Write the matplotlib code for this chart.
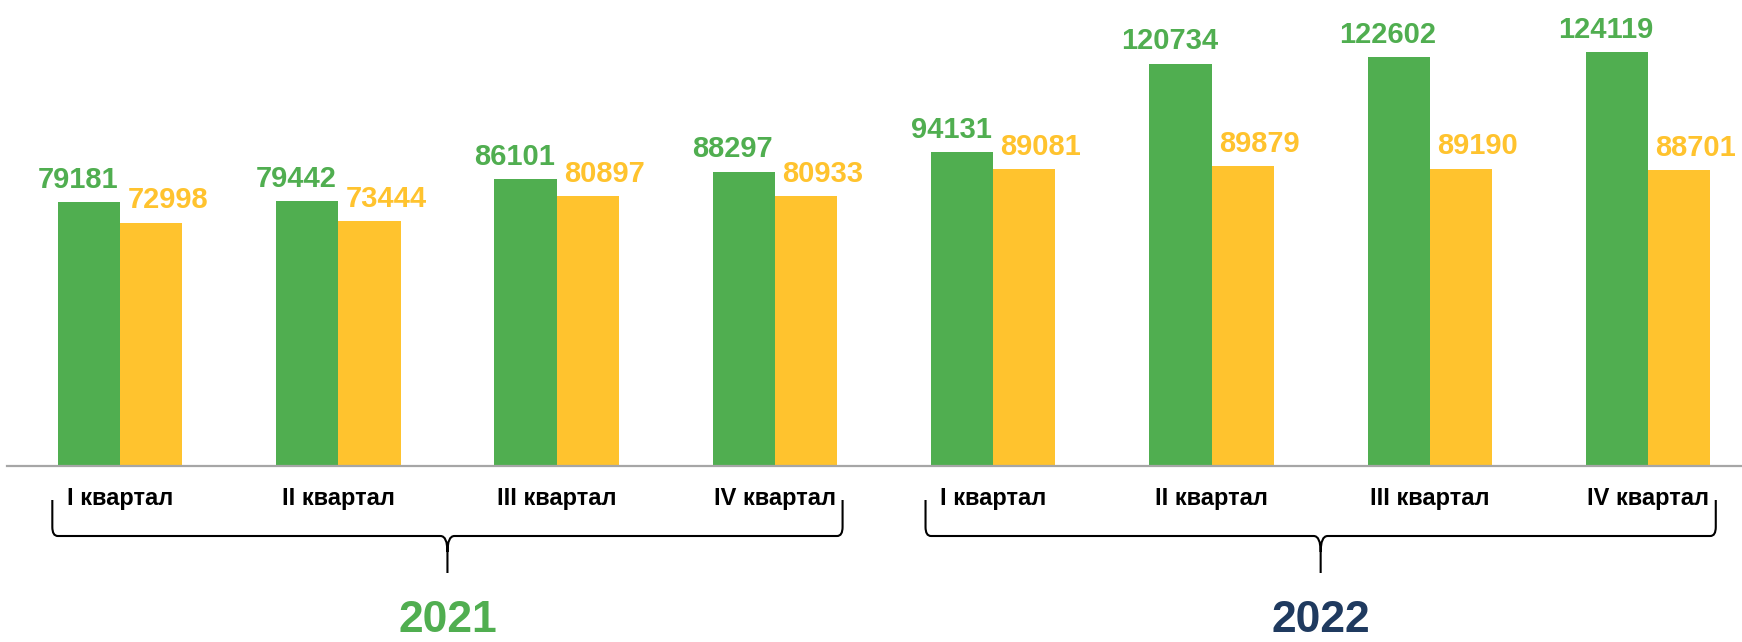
import numpy as np
import matplotlib
matplotlib.use("Agg")
import matplotlib.pyplot as plt
from matplotlib.path import Path
from matplotlib.patches import PathPatch
from matplotlib.transforms import blended_transform_factory

plt.rcParams['font.family'] = ['Liberation Sans', 'DejaVu Sans']

# данные
quarters = ["I квартал", "II квартал", "III квартал", "IV квартал",
            "I квартал", "II квартал", "III квартал", "IV квартал"]
green_vals = [79181, 79442, 86101, 88297, 94131, 120734, 122602, 124119]
yellow_vals = [72998, 73444, 80897, 80933, 89081, 89879, 89190, 88701]
years = ["2021", "2022"]
year_groups = [(0, 3), (4, 7)]

GREEN = "#50AE50"
YELLOW = "#FFC32E"
NAVY = "#1F3A5F"
year_colors = [GREEN, NAVY]

W, H = 1742, 642
fig = plt.figure(figsize=(W / 100, H / 100), dpi=100)
ax_bottom = 466
ax = fig.add_axes([7 / W, 1 - ax_bottom / H, 1 - 7 / W, ax_bottom / H])

x = np.arange(len(quarters))
bw = 0.285
ax.bar(x - bw / 2, green_vals, bw, color=GREEN)
ax.bar(x + bw / 2, yellow_vals, bw, color=YELLOW)

for xi, g, y in zip(x, green_vals, yellow_vals):
    ax.annotate(str(g), (xi - bw / 2, g), xytext=(-8, 6), textcoords="offset points",
                ha="center", va="bottom", fontsize=21, fontweight="bold", color=GREEN)
    ax.annotate(str(y), (xi + bw / 2, y), xytext=(12, 6), textcoords="offset points",
                ha="center", va="bottom", fontsize=21, fontweight="bold", color=YELLOW)

ax.set_xlim((7 - 120) / 218.3, (W - 120) / 218.3)
ax.set_ylim(0, 139800)
for s in ["top", "left", "right"]:
    ax.spines[s].set_visible(False)
ax.spines["bottom"].set_color("#A6A6A6")
ax.spines["bottom"].set_linewidth(1.6)
ax.set_xticks([])
ax.set_yticks([])

# подписи под осью
tr = blended_transform_factory(ax.transData, fig.transFigure)

def fy(py):
    return 1 - py / H

for xi, q in zip(x, quarters):
    ax.text(xi, fy(505), q, transform=tr, ha="center", va="baseline",
            fontsize=17, fontweight="bold", color="black", clip_on=False)

def brace(x0, x1, ytop=500, ymid=536, ytip=573):
    xm = (x0 + x1) / 2
    r = 0.025
    c = 0.032
    verts = [
        (x0, fy(ytop)), (x0, fy(ymid - 9)),
        (x0, fy(ymid)), (x0 + r, fy(ymid)),
        (xm - c, fy(ymid)),
        (xm, fy(ymid)), (xm, fy(ymid + 16)),
        (xm, fy(ytip)),
        (xm, fy(ymid + 16)),
        (xm, fy(ymid)), (xm + c, fy(ymid)),
        (x1 - r, fy(ymid)),
        (x1, fy(ymid)), (x1, fy(ymid - 9)),
        (x1, fy(ytop)),
    ]
    codes = [Path.MOVETO, Path.LINETO,
             Path.CURVE3, Path.CURVE3,
             Path.LINETO,
             Path.CURVE3, Path.CURVE3,
             Path.LINETO,
             Path.MOVETO,
             Path.CURVE3, Path.CURVE3,
             Path.LINETO,
             Path.CURVE3, Path.CURVE3,
             Path.LINETO]
    p = PathPatch(Path(verts, codes), transform=tr, fill=False,
                  edgecolor="black", linewidth=1.5, clip_on=False)
    ax.add_patch(p)
    return xm

for (a, b), yr, col in zip(year_groups, years, year_colors):
    xm = brace(a - 0.31, b + 0.31)
    ax.text(xm, fy(632), yr, transform=tr, ha="center", va="baseline",
            fontsize=32, fontweight="bold", color=col, clip_on=False)

fig.savefig("out.png", dpi=100)
